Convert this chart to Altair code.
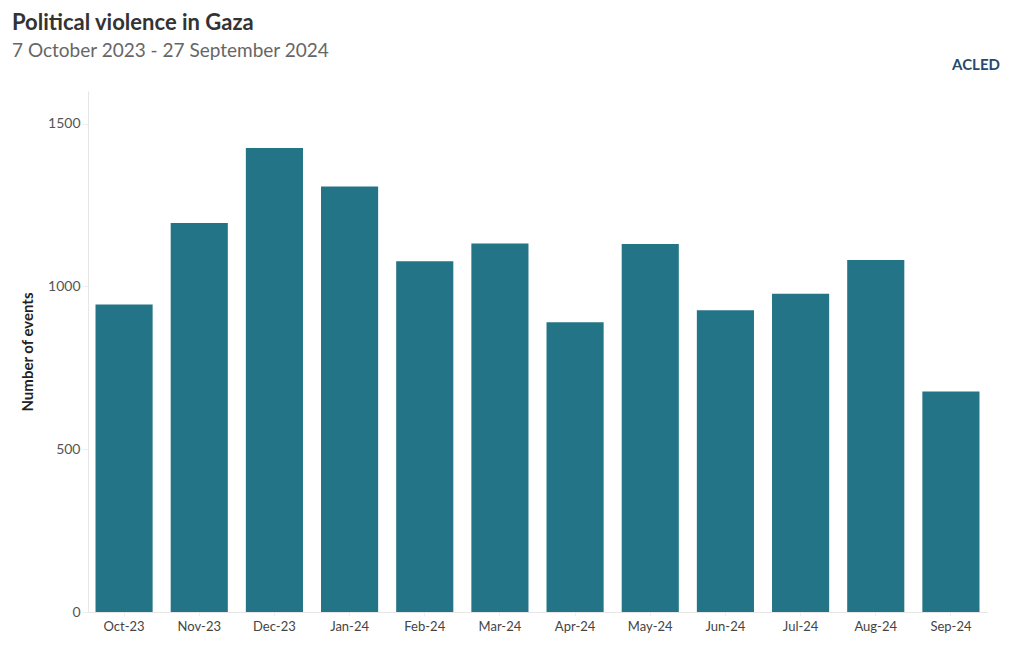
import altair as alt
import pandas as pd

months = ["Oct-23", "Nov-23", "Dec-23", "Jan-24", "Feb-24", "Mar-24",
          "Apr-24", "May-24", "Jun-24", "Jul-24", "Aug-24", "Sep-24"]
events = [944, 1195, 1425, 1307, 1077, 1132, 890, 1130, 927, 977, 1081, 677]

df = pd.DataFrame({"month": months, "events": events})

FONT = "Lato"

bars = alt.Chart(df).mark_bar(color="#237487").encode(
    x=alt.X("month:N", sort=months, title=None,
            scale=alt.Scale(paddingInner=0.24, paddingOuter=0.1),
            axis=alt.Axis(labelAngle=0, labelFontSize=13, labelColor="#444444",
                          labelFont=FONT, domainColor="#e6e6e6", tickColor="#eeeeee",
                          tickSize=4, labelPadding=4)),
    y=alt.Y("events:Q", title="Number of events",
            scale=alt.Scale(domain=[0, 1600], nice=False),
            axis=alt.Axis(values=[0, 500, 1000, 1500], grid=False, format="d",
                          labelFontSize=14, labelColor="#555555", labelFont=FONT,
                          domainColor="#e6e6e6", tickColor="#eeeeee", tickSize=6,
                          titleFont=FONT, titleFontSize=15, titleFontWeight="bold",
                          titleColor="#222222", titlePadding=12)),
)

logo = alt.Chart(pd.DataFrame({"t": ["ACLED"]})).mark_text(
    font=FONT, fontSize=15, fontWeight="bold", color="#264a6e", align="center",
    baseline="middle"
).encode(text="t:N", x=alt.value(888), y=alt.value(-26))

chart = alt.layer(bars, logo).properties(
    width=899,
    height=521,
    autosize=alt.AutoSizeParams(type="none"),
    padding={"left": 80, "top": 83, "right": 25, "bottom": 30},
    title=alt.TitleParams(
        text="Political violence in Gaza",
        subtitle="7 October 2023 - 27 September 2024",
        anchor="start", frame="group", dx=-76, offset=-4,
        font=FONT, fontSize=22, fontWeight="bold", color="#333333",
        subtitleFont=FONT, subtitleFontSize=19, subtitleColor="#666666",
        subtitlePadding=7,
    ),
).configure_view(stroke=None)

chart.save("out.html", embed_options={"renderer": "svg", "actions": False})
